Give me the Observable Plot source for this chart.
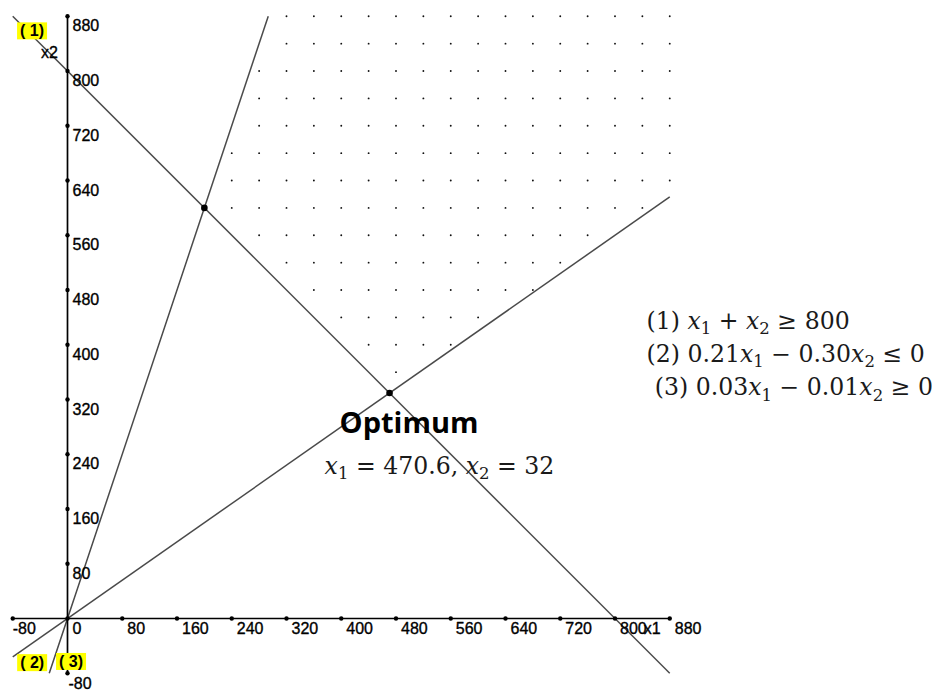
<!DOCTYPE html>
<html>
<head>
<meta charset="utf-8">
<script src="https://cdn.jsdelivr.net/npm/d3@7"></script>
<script src="https://cdn.jsdelivr.net/npm/@observablehq/plot@0.6"></script>
<style>
  html, body { margin: 0; padding: 0; background: #fff; }
  #chart { position: relative; width: 932px; height: 690px; }
  #chart svg text { white-space: pre; }
</style>
</head>
<body>
<div id="chart"></div>
<script>
// Axis ticks (both axes step by 80)
const xTicks = [-80, 0, 80, 160, 240, 320, 400, 480, 560, 640, 720, 800, 880];
const yTicks = [-80, 80, 160, 240, 320, 400, 480, 560, 640, 720, 800, 880];
const xAxisName = "x1";
const yAxisName = "x2";

// Constraint lines: a·x1 + b·x2 (sense) rhs, with the drawn segment ends
const lineNames = ["( 1)", "( 2)", "( 3)"];
const coefA = [1, 0.21, 0.03];
const coefB = [1, -0.30, -0.01];
const rhs = [800, 0, 0];
const sense = [">=", "<=", ">="];
const lineX1 = [-80, -80, -26.67];
const lineY1 = [880, -56, -80];
const lineX2 = [880, 880, 293.33];
const lineY2 = [-80, 616, 880];

// Corner points of the feasible region
const vertexX = [200, 470.6];
const vertexY = [600, 329.4];

// Text blocks
const equations = ["(1) x_1 + x_2 ≥ 800", "(2) 0.21x_1 − 0.30x_2 ≤ 0", "(3) 0.03x_1 − 0.01x_2 ≥ 0"];
const optimumTitle = "Optimum";
const optimumValues = "x_1 = 470.6, x_2 = 32";

// Lattice used to stipple the feasible region
const latticeStep = 40;
const latticeMax = 880;

const eps = 1e-9;
function feasible(x1, x2) {
  return coefA.every((a, i) => {
    const v = a * x1 + coefB[i] * x2;
    return sense[i] === ">=" ? v > rhs[i] + eps : v < rhs[i] - eps;
  });
}
const lattice = [];
for (const x1 of d3.range(0, latticeMax + 1, latticeStep))
  for (const x2 of d3.range(0, latticeMax + 1, latticeStep))
    if (feasible(x1, x2)) lattice.push({x1, x2});

const idx = d3.range(lineNames.length);
const vIdx = d3.range(vertexX.length);
const posX = xTicks.filter(d => d >= 0), negX = xTicks.filter(d => d < 0);
const posY = yTicks.filter(d => d > 0), negY = yTicks.filter(d => d < 0);

const labelFont = "Liberation Sans, Arial, sans-serif";
const mathFont = "DejaVu Serif, serif";
// slightly heavier strokes for the axis labels
const labelStyle = {fontSize: 16, fontFamily: labelFont, fill: "#000", stroke: "#000", strokeWidth: 0.35};

const marks = [
  // stippled feasible region
  Plot.dot(lattice, {x: "x1", y: "x2", r: 0.95, fill: "#111", stroke: null}),
  // constraint lines
  Plot.link(idx, {x1: i => lineX1[i], y1: i => lineY1[i], x2: i => lineX2[i], y2: i => lineY2[i],
    stroke: "#4a4a4a", strokeWidth: 1.5}),
  // axes
  Plot.ruleY([0], {x1: xTicks[0], x2: xTicks[xTicks.length - 1], stroke: "#000", strokeWidth: 1.7}),
  Plot.ruleX([0], {y1: yTicks[0], y2: yTicks[yTicks.length - 1], stroke: "#000", strokeWidth: 1.7}),
  Plot.dot(xTicks, {x: d => d, y: 0, r: 2.2, fill: "#000"}),
  Plot.dot(yTicks, {x: 0, y: d => d, r: 2.2, fill: "#000"}),
  // tick labels sit below-right of each tick
  Plot.text(posX, {x: d => d, y: 0, text: d => String(d), textAnchor: "start", lineAnchor: "bottom",
    dx: 5, dy: 15, ...labelStyle}),
  Plot.text(negX, {x: d => d, y: 0, text: d => String(d), textAnchor: "start", lineAnchor: "bottom",
    dx: 0, dy: 15, ...labelStyle}),
  Plot.text(posY, {x: 0, y: d => d, text: d => String(d), textAnchor: "start", lineAnchor: "bottom",
    dx: 5, dy: 15, ...labelStyle}),
  Plot.text(negY, {x: 0, y: d => d, text: d => String(d), textAnchor: "start", lineAnchor: "bottom",
    dx: 1, dy: 15.5, ...labelStyle}),
  // axis names
  Plot.text([xAxisName], {x: xTicks[xTicks.length - 1], y: 0, text: d => d, textAnchor: "end", lineAnchor: "bottom",
    dx: -9, dy: 15, ...labelStyle}),
  Plot.text([yAxisName], {x: 0, y: yTicks[yTicks.length - 1], text: d => d, textAnchor: "end", lineAnchor: "bottom",
    dx: -9.5, dy: 41.5, ...labelStyle}),
  // corner points
  Plot.dot(vIdx, {x: i => vertexX[i], y: i => vertexY[i], r: 3.3, fill: "#000"}),
  // optimum annotation
  Plot.text([optimumTitle], {x: vertexX[1], y: vertexY[1], text: d => d, textAnchor: "start", lineAnchor: "bottom",
    dx: -50, dy: 39.7, fontSize: 29, fontWeight: "bold", fontFamily: "Open Sans, sans-serif", fill: "#000"}),
  Plot.text([optimumValues], {x: vertexX[1], y: vertexY[1], text: d => d, textAnchor: "start", lineAnchor: "bottom",
    dx: -65, dy: 80.5, fontSize: 23.6, fontFamily: mathFont, fill: "#1a1a1a"})
];

// highlighted line names at the lower/left end of each line
const nameOffsets = [[19.3, 15], [19.4, 6.2], [21.8, -11.4]];
idx.forEach(i => {
  marks.push(Plot.text([lineNames[i]], {x: lineX1[i], y: lineY1[i], text: d => d,
    textAnchor: "middle", lineAnchor: "middle", dx: nameOffsets[i][0], dy: nameOffsets[i][1],
    fontSize: 16, fontWeight: "bold", fontFamily: labelFont, fill: "#000"}));
});

// constraint list to the right of the graph
const eqLeft = [633.75, 633.75, 642];
const eqBase = [312.5, 345.9, 379.2];
equations.forEach((eq, i) => {
  marks.push(Plot.text([eq], {frameAnchor: "top-left", text: d => d, textAnchor: "start", lineAnchor: "bottom",
    dx: eqLeft[i], dy: eqBase[i], fontSize: 23.6, fontFamily: mathFont, fill: "#1a1a1a"}));
});

const chart = Plot.plot({
  width: 932,
  height: 690,
  marginLeft: 12.25,
  marginRight: 262.75,
  marginTop: 15.75,
  marginBottom: 17.25,
  x: {domain: [-80, 880], axis: null},
  y: {domain: [-80, 880], axis: null},
  style: {background: "#fff", overflow: "visible"},
  marks
});
document.getElementById("chart").appendChild(chart);

// italic variables with subscripts: "x_1" -> x with a lowered 1
const SVGNS = "http://www.w3.org/2000/svg";
chart.querySelectorAll("text").forEach(el => {
  const s = el.textContent;
  if (!s.includes("_")) return;
  const fs = parseFloat(getComputedStyle(el).fontSize);
  const shift = fs * 0.22;
  el.textContent = "";
  let lowered = false;
  for (const part of s.split(/(x_\d)/)) {
    if (!part) continue;
    const m = part.match(/^x_(\d)$/);
    if (m) {
      const v = document.createElementNS(SVGNS, "tspan");
      v.textContent = "x";
      v.setAttribute("font-style", "italic");
      if (lowered) { v.setAttribute("dy", -shift); lowered = false; }
      el.appendChild(v);
      const sub = document.createElementNS(SVGNS, "tspan");
      sub.textContent = m[1];
      sub.setAttribute("font-size", fs * 0.7);
      sub.setAttribute("dy", shift);
      el.appendChild(sub);
      lowered = true;
    } else {
      const t = document.createElementNS(SVGNS, "tspan");
      t.textContent = part;
      if (lowered) { t.setAttribute("dy", -shift); lowered = false; }
      el.appendChild(t);
    }
  }
});

// yellow highlight boxes behind the line names
chart.querySelectorAll("text").forEach(el => {
  if (!lineNames.includes(el.textContent)) return;
  const b = el.getBBox();
  const r = document.createElementNS(SVGNS, "rect");
  r.setAttribute("x", b.x - 3);
  r.setAttribute("y", b.y);
  r.setAttribute("width", b.width + 6);
  r.setAttribute("height", b.height);
  r.setAttribute("fill", "#ffff00");
  const tr = el.getAttribute("transform");
  if (tr) r.setAttribute("transform", tr);
  el.parentNode.insertBefore(r, el);
});
</script>
</body>
</html>
